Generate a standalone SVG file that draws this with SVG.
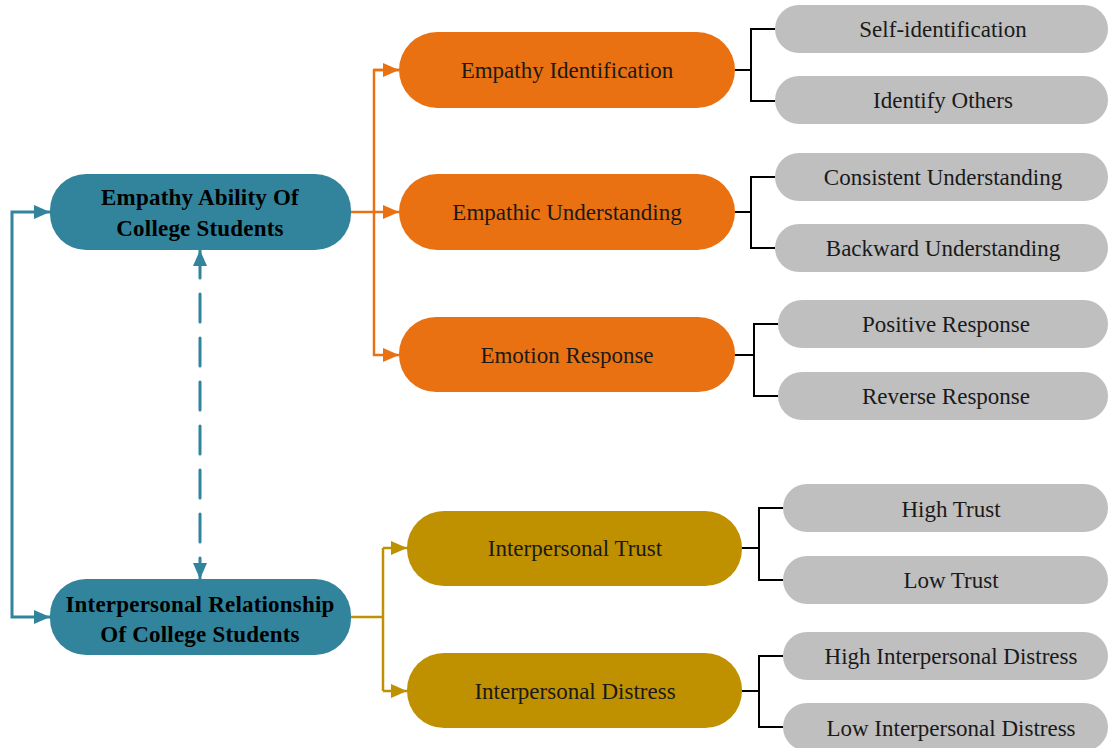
<svg xmlns="http://www.w3.org/2000/svg" width="1108" height="748" viewBox="0 0 1108 748">
<style>
.teal{fill:#31849B}
.orange{fill:#E97111}
.gold{fill:#BF9000}
.grey{fill:#BFBFBF}
.tb{font-family:"Liberation Serif","Times New Roman",serif;font-weight:bold;font-size:23px;fill:#000;text-anchor:middle;letter-spacing:0.2px}
.t{font-family:"Liberation Serif","Times New Roman",serif;font-size:23px;fill:#1a1a1a;text-anchor:middle}
.cT{fill:none;stroke:#31849B;stroke-width:3}
.cO{fill:none;stroke:#E97111;stroke-width:2.5}
.cG{fill:none;stroke:#BF9000;stroke-width:2.5}
.cK{fill:none;stroke:#000;stroke-width:2}
</style>
<defs>
<marker id="aT" viewBox="0 0 16 14" refX="16" refY="7" markerWidth="16" markerHeight="14" markerUnits="userSpaceOnUse" orient="auto-start-reverse"><path d="M0,0 L16,7 L0,14 Z" fill="#31849B"/></marker>
<marker id="aO" viewBox="0 0 16 14" refX="16" refY="7" markerWidth="16" markerHeight="14" markerUnits="userSpaceOnUse" orient="auto"><path d="M0,0 L16,7 L0,14 Z" fill="#E97111"/></marker>
<marker id="aG" viewBox="0 0 16 14" refX="16" refY="7" markerWidth="16" markerHeight="14" markerUnits="userSpaceOnUse" orient="auto"><path d="M0,0 L16,7 L0,14 Z" fill="#BF9000"/></marker>
</defs>
<rect width="1108" height="748" fill="#fff"/>
<g id="connectors">
<path class="cT" d="M50,212 H12 V617 H50" marker-start="url(#aT)" marker-end="url(#aT)"/>
<line class="cT" x1="200" y1="250" x2="200" y2="579" stroke-dasharray="28 16" stroke-linecap="round" marker-start="url(#aT)" marker-end="url(#aT)"/>
<path class="cO" d="M351,212 H399" marker-end="url(#aO)"/>
<path class="cO" d="M399,70 H374 V355 H399" marker-end="url(#aO)"/>
<path class="cO" d="M374,70 H399" marker-end="url(#aO)"/>
<path class="cG" d="M351,617 H383"/>
<path class="cG" d="M383,548 V691"/>
<path class="cG" d="M383,548 H407" marker-end="url(#aG)"/>
<path class="cG" d="M383,691 H407" marker-end="url(#aG)"/>
<path class="cK" d="M735,70 H751 M775,29 H751 V101 H775"/>
<path class="cK" d="M735,212 H751 M775,177 H751 V248 H775"/>
<path class="cK" d="M735,355 H754 M778,324 H754 V396 H778"/>
<path class="cK" d="M742,548 H759 M783,508 H759 V580 H783"/>
<path class="cK" d="M742,691 H759 M783,656 H759 V727 H783"/>
</g>
<g id="n-empathy"><rect class="teal" x="50" y="174" width="301" height="76" rx="36"/><text class="tb" x="200" y="205">Empathy Ability Of</text><text class="tb" x="200" y="236">College Students</text></g>
<g id="n-relation"><rect class="teal" x="50" y="579" width="301" height="76" rx="36"/><text class="tb" x="200" y="612">Interpersonal Relationship</text><text class="tb" x="200" y="642">Of College Students</text></g>
<g id="n-ident"><rect class="orange" x="399" y="32" width="336" height="76" rx="38"/><text class="t" x="567" y="78">Empathy Identification</text></g>
<g id="n-underst"><rect class="orange" x="399" y="174" width="336" height="76" rx="38"/><text class="t" x="567" y="220">Empathic Understanding</text></g>
<g id="n-emotion"><rect class="orange" x="399" y="317" width="336" height="75" rx="37"/><text class="t" x="567" y="363">Emotion Response</text></g>
<g id="n-trust"><rect class="gold" x="407" y="511" width="335" height="75" rx="37"/><text class="t" x="575" y="556">Interpersonal Trust</text></g>
<g id="n-distress"><rect class="gold" x="407" y="653" width="335" height="75" rx="37"/><text class="t" x="575" y="699">Interpersonal Distress</text></g>
<g id="n-self"><rect class="grey" x="775" y="5" width="333" height="48" rx="24"/><text class="t" x="943" y="37">Self-identification</text></g>
<g id="n-others"><rect class="grey" x="775" y="76" width="333" height="48" rx="24"/><text class="t" x="943" y="108">Identify Others</text></g>
<g id="n-consistent"><rect class="grey" x="775" y="153" width="333" height="48" rx="24"/><text class="t" x="943" y="185">Consistent Understanding</text></g>
<g id="n-backward"><rect class="grey" x="775" y="224" width="333" height="48" rx="24"/><text class="t" x="943" y="256">Backward Understanding</text></g>
<g id="n-positive"><rect class="grey" x="778" y="300" width="330" height="48" rx="24"/><text class="t" x="946" y="332">Positive Response</text></g>
<g id="n-reverse"><rect class="grey" x="778" y="372" width="330" height="48" rx="24"/><text class="t" x="946" y="404">Reverse Response</text></g>
<g id="n-hightrust"><rect class="grey" x="783" y="484" width="325" height="48" rx="24"/><text class="t" x="951" y="517">High Trust</text></g>
<g id="n-lowtrust"><rect class="grey" x="783" y="556" width="325" height="48" rx="24"/><text class="t" x="951" y="588">Low Trust</text></g>
<g id="n-highdist"><rect class="grey" x="783" y="632" width="325" height="48" rx="24"/><text class="t" x="951" y="664">High Interpersonal Distress</text></g>
<g id="n-lowdist"><rect class="grey" x="783" y="703" width="325" height="48" rx="24"/><text class="t" x="951" y="736">Low Interpersonal Distress</text></g>
</svg>
